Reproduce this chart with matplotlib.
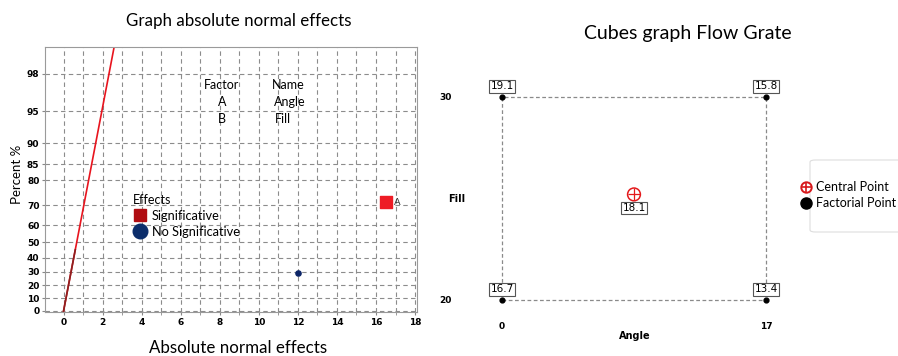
import matplotlib
matplotlib.use("Agg")
import matplotlib.pyplot as plt
from matplotlib.lines import Line2D
from matplotlib.patches import FancyBboxPatch
from statistics import NormalDist
import numpy as np

plt.rcParams['font.family'] = ['Lato', 'DejaVu Sans']

# ---- half normal plot data ----
effect_names = ['A', 'B']
effect_values = [16.5, 12.0]
effect_pct = [71.5, 28.8]
effect_signif = [True, False]
pct_ticks = [0, 10, 20, 30, 40, 50, 60, 70, 80, 85, 90, 95, 98]
x_ticks = [0, 2, 4, 6, 8, 10, 12, 14, 16, 18]
factor_codes = ['A', 'B']
factor_labels = ['Angle', 'Fill']

# ---- cube plot data ----
angle_levels = [0, 17]
fill_levels = [20, 30]
cube_corner_x = [0, 17, 0, 17]
cube_corner_y = [30, 30, 20, 20]
cube_corner_val = [19.1, 15.8, 16.7, 13.4]
center_x = 8.5
center_y = 25.2
center_val = 18.1

nd = NormalDist()
def halfnorm(p):
    p = np.atleast_1d(np.asarray(p, dtype=float))
    return np.array([nd.inv_cdf((1 + v / 100.0) / 2) for v in p])

fig = plt.figure(figsize=(8.98, 3.56), dpi=100)

# ================= left: half normal plot =================
ax = fig.add_axes([45/898, 1-312/356, 372/898, 265/356])
ax.set_xlim(-0.95, 18.1)
ax.set_ylim(-0.01, 2.59)
ax.set_xticks(x_ticks)
ax.set_xticks(range(0, 19), minor=True)
ax.set_yticks(halfnorm(pct_ticks))
ax.set_yticklabels([str(p) for p in pct_ticks])
ax.tick_params(axis='both', which='both', labelsize=6.5, length=2, color='#888888', pad=2)
for lab in ax.get_xticklabels() + ax.get_yticklabels():
    lab.set_fontweight('bold')
    lab.set_family('DejaVu Sans')
ax.grid(True, which='both', axis='x', linestyle=(0, (4, 3)), color='#8c8c8c', linewidth=0.8)
ax.grid(True, which='major', axis='y', linestyle=(0, (4, 3)), color='#8c8c8c', linewidth=0.8)
for s in ax.spines.values():
    s.set_color('#9a9a9a')

# reference line (x = z)
zz = np.array([0, 2.7])
ax.plot(zz, zz, color='#e8141e', lw=1.2, zorder=2)
ax.plot([0, 0.6], [0, 0.6], color='#8b2020', lw=1.2, zorder=3)

zy = halfnorm(effect_pct)
for name, xv, yv, sig in zip(effect_names, effect_values, zy, effect_signif):
    if sig:
        ax.scatter([xv], [yv], marker='s', s=64, color='#ee1c25', zorder=4)
        ax.text(xv + 0.4, yv, name, fontsize=7, va='center', ha='left', color='#333333')
    else:
        ax.scatter([xv], [yv], marker='o', s=14, color='#0b2466', zorder=4)

ax.text(8.1, 2.22, 'Factor', fontsize=9, ha='center', va='center')
ax.text(11.5, 2.22, 'Name', fontsize=9, ha='center', va='center')
for i, (c, n) in enumerate(zip(factor_codes, factor_labels)):
    yy = 2.22 - 0.17 * (i + 1)
    ax.text(8.1, yy, c, fontsize=9, ha='center', va='center')
    ax.text(10.8, yy, n, fontsize=9, ha='left', va='center')

h_sig = Line2D([], [], marker='s', color='#b00d12', ls='none', markersize=8)
h_nsig = Line2D([], [], marker='o', color='#0b2d6b', ls='none', markersize=10.5)
leg = ax.legend([h_sig, h_nsig], ['Significative', 'No Significative'], title='Effects',
                loc='upper left', bbox_to_anchor=(0.235, 0.445), frameon=False,
                fontsize=9.2, title_fontsize=9, handletextpad=0.3, labelspacing=0.3,
                borderpad=0.0, handlelength=1.2, borderaxespad=0)
leg._legend_box.align = 'left'

ax.set_title('Graph absolute normal effects', fontsize=12.2, pad=15, x=0.52)
ax.set_xlabel('Absolute normal effects', fontsize=12.2, labelpad=10, x=0.52)
ax.set_ylabel('Percent %', fontsize=9.5, labelpad=8)
ax.yaxis.set_label_coords(-0.058, 0.52)

# ================= right: cube plot =================
bx = fig.add_axes([470/898, 1-315/356, 330/898, 245/356])
bx.set_xlim(-2.06, 19.19)
bx.set_ylim(19.26, 31.33)
for s in bx.spines.values():
    s.set_visible(False)
bx.set_xticks(angle_levels)
bx.set_yticks(fill_levels)
bx.tick_params(length=0, labelsize=6.5)
bx.tick_params(axis='y', pad=13)
bx.tick_params(axis='x', pad=5)
for lab in bx.get_xticklabels() + bx.get_yticklabels():
    lab.set_fontweight('bold')
    lab.set_family('DejaVu Sans')

# dashed square
sq_x = [angle_levels[0], angle_levels[1], angle_levels[1], angle_levels[0], angle_levels[0]]
sq_y = [fill_levels[0], fill_levels[0], fill_levels[1], fill_levels[1], fill_levels[0]]
bx.plot(sq_x, sq_y, color='#8a8a8a', ls=(0, (3, 2)), lw=0.9, zorder=1)
bx.scatter(cube_corner_x, cube_corner_y, s=12, color='black', zorder=3)
for xv, yv, v in zip(cube_corner_x, cube_corner_y, cube_corner_val):
    bx.annotate(f'{v:.1f}', (xv, yv), xytext=(0, 4), textcoords='offset points',
                ha='center', va='bottom', fontsize=7.5, family='DejaVu Sans',
                bbox=dict(boxstyle='square,pad=0.12', fc='white', ec='#555555', lw=0.8))

bx.scatter([center_x], [center_y], s=85, facecolor='none', edgecolor='#e41a1c', lw=1.1, zorder=3)
bx.scatter([center_x], [center_y], s=70, marker='+', color='#e41a1c', lw=0.9, zorder=3)
bx.annotate(f'{center_val:.1f}', (center_x, center_y), xytext=(0, -6), textcoords='offset points',
            ha='center', va='top', fontsize=7.5, family='DejaVu Sans',
            bbox=dict(boxstyle='square,pad=0.12', fc='white', ec='#555555', lw=0.8))

bx.set_xlabel('Angle', fontsize=7, fontweight='bold', family='DejaVu Sans', labelpad=0)
bx.set_ylabel('Fill', fontsize=7, fontweight='bold', family='DejaVu Sans', rotation=0)
bx.yaxis.set_label_coords(-0.04, 0.455)
bx.set_title('Cubes graph Flow Grate', fontsize=14, pad=22, x=0.66)

# legend with its own light frame
frame = FancyBboxPatch((810/898, 1-232/356), 120/898, 72/356, boxstyle='round,pad=0,rounding_size=0.006',
                       transform=fig.transFigure, fc='white', ec='#dddddd', lw=0.8)
fig.patches.append(frame)
h_c1 = Line2D([], [], marker='o', mfc='white', mec='#d7191c', ls='none', markersize=7.5, mew=1.4)
h_c2 = Line2D([], [], marker='+', color='#d7191c', ls='none', markersize=6.5, mew=1.2)
h_f = Line2D([], [], marker='o', color='black', ls='none', markersize=8)
fleg = fig.legend([(h_c1, h_c2), h_f], ['Central Point', 'Factorial Point'],
                  loc='upper left', bbox_to_anchor=(798/898, 1-181/356), fontsize=9,
                  frameon=False, handletextpad=0.25, labelspacing=0.35, borderpad=0.0,
                  handlelength=1.2, borderaxespad=0)

fig.savefig('out.png', dpi=100)
